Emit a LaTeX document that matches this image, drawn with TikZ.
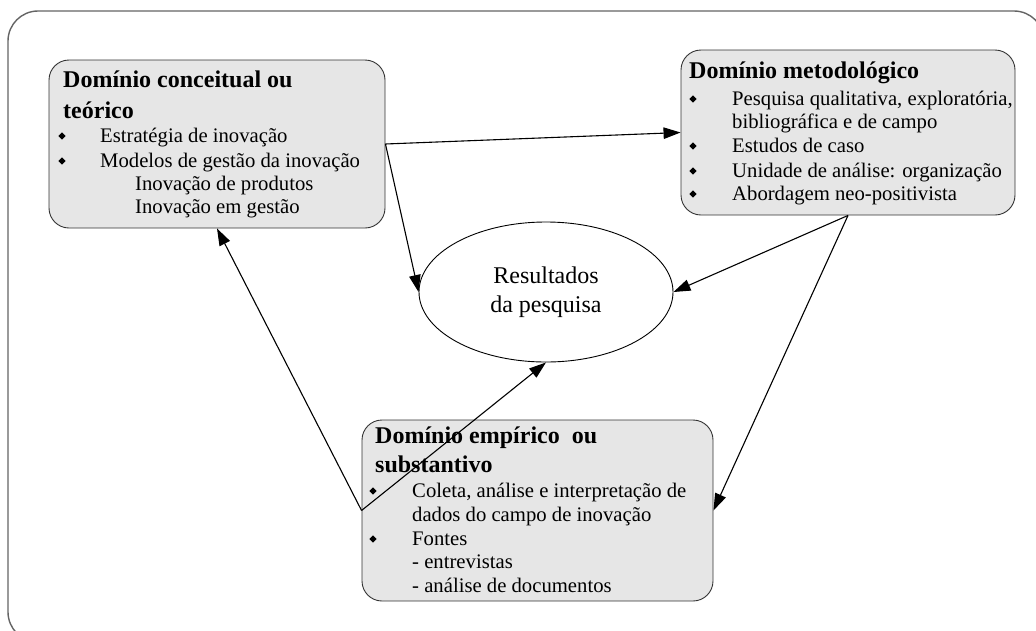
\documentclass[tikz,border=0pt]{standalone}
\usepackage{fontspec}
\setmainfont{Liberation Serif}
\usetikzlibrary{shapes.geometric,arrows.meta}
\definecolor{boxgray}{RGB}{230,230,230}
\definecolor{framegray}{RGB}{100,100,100}
\tikzset{
  frame/.style={draw=framegray, line width=1.4pt, rounded corners=30pt},
  box/.style={draw=black!80, fill=boxgray, rounded corners=20pt, line width=0.9pt, inner sep=0pt},
  ell/.style={ellipse, draw=black, line width=0.9pt, inner sep=0pt, minimum width=254pt, minimum height=140pt, align=center, font=\fontsize{24}{29}\selectfont},
  ttl/.style={anchor=base west, inner sep=0pt, font=\fontsize{24}{29}\selectfont\bfseries},
  txt/.style={anchor=base west, inner sep=0pt, font=\fontsize{20.7}{24}\selectfont},
  bul/.style={diamond, fill=black, inner sep=0pt, minimum size=7.5pt},
  conn/.style={line width=1.1pt, -{Triangle[length=17pt,width=11.5pt]}}
}
\begin{document}
\begin{tikzpicture}[x=1pt,y=-1pt]
\useasboundingbox (0,0) rectangle (1036,630);
\clip (0,0) rectangle (1036,630);
% outer frame
\draw[frame] (8,11) rectangle (1044,642);

% boxes
\node[box, minimum width=336pt, minimum height=168pt] (b1) at (217,144) {};
\node[box, minimum width=334pt, minimum height=165pt] (b2) at (848,132.5) {};
\node[box, minimum width=351pt, minimum height=181pt] (b3) at (537.5,510.5) {};
\node[ell] (res) at (546,292) {Resultados\\da pesquisa};

% conceptual domain
\node[ttl] (t1a) at (63,87) {Domínio conceitual ou};
\node[ttl] (t1b) at (63,118) {teórico};
\node[bul] (d1a) at (62,136) {};
\node[txt] (l1a) at (100,142) {Estratégia de inovação};
\node[bul] (d1b) at (62,161) {};
\node[txt] (l1b) at (100,167) {Modelos de gestão da inovação};
\node[txt] (l1c) at (135,190) {Inovação de produtos};
\node[txt] (l1d) at (135,213) {Inovação em gestão};

% methodological domain
\node[ttl] (t2a) at (689,78) {Domínio metodológico};
\node[bul] (d2a) at (693,99) {};
\node[txt] (l2a) at (732,105) {Pesquisa qualitativa, exploratória,};
\node[txt] (l2b) at (732,128) {bibliográfica e de campo};
\node[bul] (d2b) at (693,146) {};
\node[txt] (l2c) at (732,152) {Estudos de caso};
\node[bul] (d2c) at (693,171) {};
\node[txt] (l2d) at (732,177) {Unidade de análise: organização};
\node[bul] (d2d) at (693,194) {};
\node[txt] (l2e) at (732,200) {Abordagem neo-positivista};

% empirical domain
\node[ttl] (t3a) at (375,443) {Domínio empírico\ \ ou};
\node[ttl] (t3b) at (375,472) {substantivo};
\node[bul] (d3a) at (373,491) {};
\node[txt] (l3a) at (412,497) {Coleta, análise e interpretação de};
\node[txt] (l3b) at (412,521) {dados do campo de inovação};
\node[bul] (d3b) at (373,539) {};
\node[txt] (l3c) at (412,545) {Fontes};
\node[txt] (l3d) at (412,568) {- entrevistas};
\node[txt] (l3e) at (412,592) {- análise de documentos};

% connectors
\draw[conn] (b1.east) -- (b2.west);
\draw[conn] (b1.east) -- (res.west);
\draw[conn] (b2.south) -- (res.east);
\draw[conn] (b2.south) -- (b3.east);
\draw[conn] (b3.west) -- (b1.south);
\draw[conn] (b3.west) -- (res.south);
\end{tikzpicture}
\end{document}
